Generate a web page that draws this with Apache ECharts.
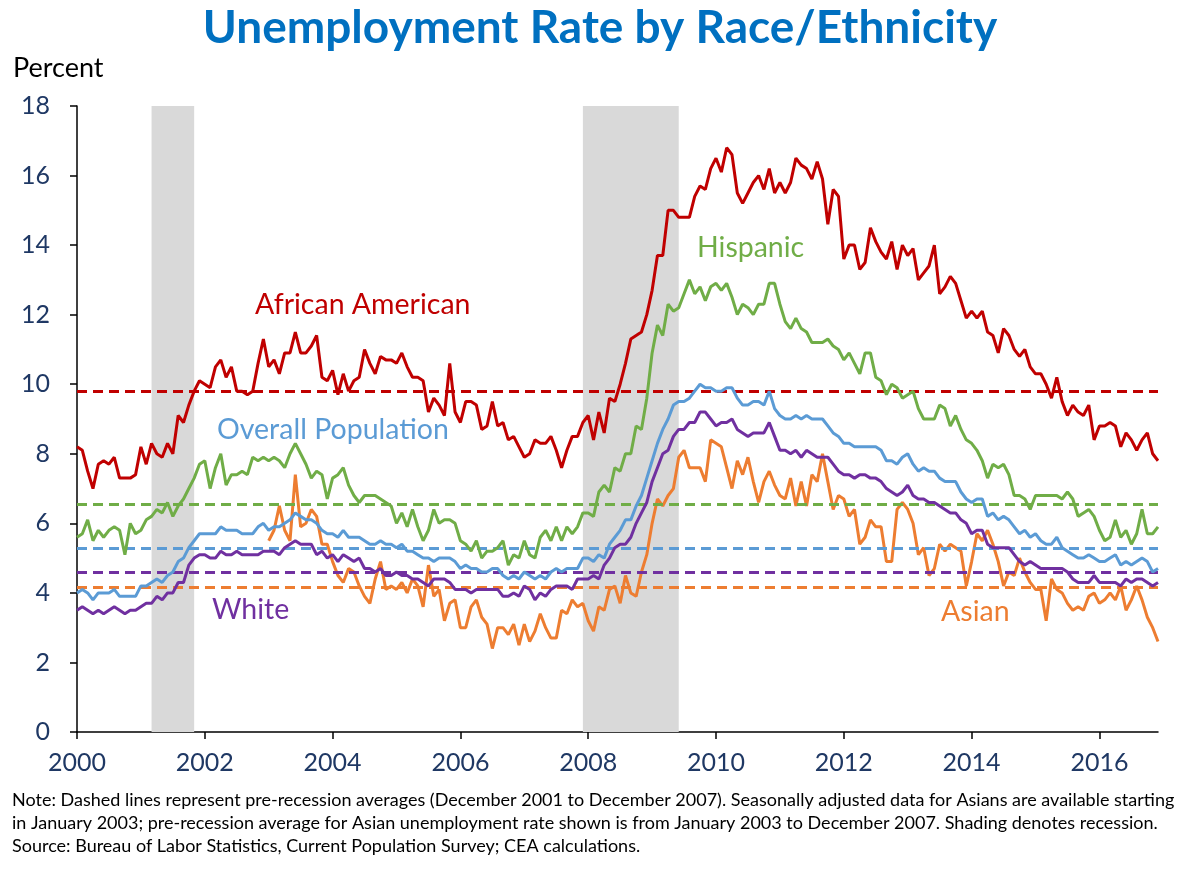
<!DOCTYPE html>
<html>
<head>
<meta charset="utf-8">
<title>Unemployment Rate by Race/Ethnicity</title>
<script src="https://cdn.jsdelivr.net/npm/echarts@6/dist/echarts.min.js"></script>
<style>
html, body { margin: 0; padding: 0; background: #fff; }
#chart { width: 1200px; height: 872px; }
</style>
</head>
<body>
<div id="chart"></div>
<script>
// monthly data, Jan 2000 - Dec 2016
var startYear = 2000, endYear = 2016;

var africanAmerican = [
    8.2, 8.1, 7.5, 7.0, 7.7, 7.8, 7.7, 7.9, 7.3, 7.3, 7.3, 7.4,
    8.2, 7.7, 8.3, 8.0, 7.9, 8.3, 8.0, 9.1, 8.9, 9.4, 9.8, 10.1,
    10.0, 9.9, 10.5, 10.7, 10.2, 10.5, 9.8, 9.8, 9.7, 9.8, 10.6, 11.3,
    10.5, 10.7, 10.3, 10.9, 10.9, 11.5, 10.9, 10.9, 11.1, 11.4, 10.2, 10.1,
    10.4, 9.7, 10.3, 9.8, 10.1, 10.2, 11.0, 10.6, 10.3, 10.8, 10.7, 10.7,
    10.6, 10.9, 10.5, 10.2, 10.2, 10.1, 9.2, 9.6, 9.4, 9.1, 10.6, 9.2,
    8.9, 9.5, 9.5, 9.4, 8.7, 8.8, 9.5, 8.8, 8.9, 8.4, 8.5, 8.2,
    7.9, 8.0, 8.4, 8.3, 8.3, 8.5, 8.1, 7.6, 8.1, 8.5, 8.5, 8.9,
    9.1, 8.4, 9.2, 8.6, 9.6, 9.5, 10.0, 10.6, 11.3, 11.4, 11.5, 12.0,
    12.7, 13.7, 13.7, 15.0, 15.0, 14.8, 14.8, 14.8, 15.4, 15.7, 15.6, 16.2,
    16.5, 16.1, 16.8, 16.6, 15.5, 15.2, 15.5, 15.8, 16.0, 15.6, 16.2, 15.5,
    15.8, 15.5, 15.8, 16.5, 16.3, 16.2, 15.9, 16.4, 15.9, 14.6, 15.6, 15.4,
    13.6, 14.0, 14.0, 13.3, 13.5, 14.5, 14.1, 13.8, 13.6, 14.1, 13.3, 14.0,
    13.7, 13.9, 13.0, 13.2, 13.4, 14.0, 12.6, 12.8, 13.1, 12.9, 12.4, 11.9,
    12.1, 11.9, 12.1, 11.5, 11.4, 10.9, 11.6, 11.4, 11.0, 10.8, 11.0, 10.5,
    10.3, 10.3, 10.0, 9.6, 10.2, 9.5, 9.1, 9.4, 9.2, 9.1, 9.4, 8.4,
    8.8, 8.8, 8.9, 8.8, 8.2, 8.6, 8.4, 8.1, 8.4, 8.6, 8.0, 7.8
];

var hispanic = [
    5.6, 5.7, 6.1, 5.5, 5.8, 5.6, 5.8, 5.9, 5.8, 5.1, 6.0, 5.7,
    5.8, 6.1, 6.2, 6.4, 6.3, 6.6, 6.2, 6.5, 6.7, 7.0, 7.3, 7.7,
    7.8, 7.0, 7.6, 8.0, 7.1, 7.4, 7.4, 7.5, 7.4, 7.9, 7.8, 7.9,
    7.8, 7.9, 7.8, 7.6, 8.0, 8.3, 8.0, 7.7, 7.3, 7.5, 7.4, 6.7,
    7.3, 7.4, 7.6, 7.1, 6.8, 6.6, 6.8, 6.8, 6.8, 6.7, 6.6, 6.5,
    6.0, 6.3, 5.9, 6.4, 5.9, 5.5, 5.8, 6.4, 6.0, 6.1, 6.1, 6.0,
    5.5, 5.4, 5.2, 5.5, 5.0, 5.2, 5.2, 5.3, 5.5, 4.8, 5.1, 5.0,
    5.5, 5.1, 5.0, 5.6, 5.8, 5.5, 5.9, 5.5, 5.9, 5.7, 5.9, 6.3,
    6.3, 6.2, 6.9, 7.1, 6.9, 7.6, 7.5, 8.0, 8.0, 8.8, 8.7, 9.6,
    10.9, 11.7, 11.4, 12.3, 12.1, 12.2, 12.6, 13.0, 12.6, 12.8, 12.4, 12.8,
    12.9, 12.7, 12.9, 12.5, 12.0, 12.3, 12.2, 12.0, 12.3, 12.3, 12.9, 12.9,
    12.3, 11.8, 11.6, 11.9, 11.6, 11.5, 11.2, 11.2, 11.2, 11.3, 11.1, 11.0,
    10.7, 10.9, 10.6, 10.3, 10.9, 10.9, 10.2, 10.1, 9.7, 10.0, 9.9, 9.6,
    9.7, 9.8, 9.3, 9.0, 9.0, 9.0, 9.4, 9.3, 8.8, 9.1, 8.7, 8.4,
    8.3, 8.1, 7.8, 7.3, 7.7, 7.6, 7.7, 7.4, 6.8, 6.8, 6.7, 6.4,
    6.8, 6.8, 6.8, 6.8, 6.8, 6.7, 6.9, 6.7, 6.2, 6.3, 6.4, 6.2,
    5.8, 5.5, 5.6, 6.1, 5.6, 5.8, 5.4, 5.7, 6.4, 5.7, 5.7, 5.9
];

var overall = [
    4.0, 4.1, 4.0, 3.8, 4.0, 4.0, 4.0, 4.1, 3.9, 3.9, 3.9, 3.9,
    4.2, 4.2, 4.3, 4.4, 4.3, 4.5, 4.6, 4.9, 5.0, 5.3, 5.5, 5.7,
    5.7, 5.7, 5.7, 5.9, 5.8, 5.8, 5.8, 5.7, 5.7, 5.7, 5.9, 6.0,
    5.8, 5.9, 5.9, 6.0, 6.1, 6.3, 6.2, 6.1, 6.1, 6.0, 5.8, 5.7,
    5.7, 5.6, 5.8, 5.6, 5.6, 5.6, 5.5, 5.4, 5.4, 5.5, 5.4, 5.4,
    5.3, 5.4, 5.2, 5.2, 5.1, 5.0, 5.0, 4.9, 5.0, 5.0, 5.0, 4.9,
    4.7, 4.8, 4.7, 4.7, 4.6, 4.6, 4.7, 4.7, 4.5, 4.4, 4.5, 4.4,
    4.6, 4.5, 4.4, 4.5, 4.4, 4.6, 4.7, 4.6, 4.7, 4.7, 4.7, 5.0,
    5.0, 4.9, 5.1, 5.0, 5.4, 5.6, 5.8, 6.1, 6.1, 6.5, 6.8, 7.3,
    7.8, 8.3, 8.7, 9.0, 9.4, 9.5, 9.5, 9.6, 9.8, 10.0, 9.9, 9.9,
    9.8, 9.8, 9.9, 9.9, 9.6, 9.4, 9.4, 9.5, 9.5, 9.4, 9.8, 9.3,
    9.1, 9.0, 9.0, 9.1, 9.0, 9.1, 9.0, 9.0, 9.0, 8.8, 8.6, 8.5,
    8.3, 8.3, 8.2, 8.2, 8.2, 8.2, 8.2, 8.1, 7.8, 7.8, 7.7, 7.9,
    8.0, 7.7, 7.5, 7.6, 7.5, 7.5, 7.3, 7.2, 7.2, 7.2, 6.9, 6.7,
    6.6, 6.7, 6.7, 6.2, 6.3, 6.1, 6.2, 6.1, 5.9, 5.7, 5.8, 5.6,
    5.7, 5.5, 5.4, 5.4, 5.6, 5.3, 5.2, 5.1, 5.0, 5.0, 5.1, 5.0,
    4.9, 4.9, 5.0, 5.1, 4.8, 4.9, 4.8, 4.9, 5.0, 4.9, 4.6, 4.7
];

var white = [
    3.5, 3.6, 3.5, 3.4, 3.5, 3.4, 3.5, 3.6, 3.5, 3.4, 3.5, 3.5,
    3.6, 3.7, 3.7, 3.9, 3.8, 4.0, 4.0, 4.3, 4.3, 4.8, 5.0, 5.1,
    5.1, 5.0, 5.0, 5.2, 5.1, 5.1, 5.2, 5.1, 5.1, 5.1, 5.1, 5.2,
    5.2, 5.2, 5.1, 5.3, 5.4, 5.5, 5.4, 5.4, 5.4, 5.1, 5.2, 5.0,
    5.1, 4.9, 5.1, 5.0, 4.9, 5.0, 4.7, 4.7, 4.6, 4.7, 4.5, 4.5,
    4.6, 4.5, 4.5, 4.4, 4.4, 4.3, 4.2, 4.4, 4.4, 4.4, 4.3, 4.1,
    4.1, 4.1, 4.0, 4.1, 4.1, 4.1, 4.1, 4.1, 3.9, 3.9, 4.0, 3.9,
    4.2, 4.1, 3.8, 4.0, 3.9, 4.1, 4.2, 4.2, 4.2, 4.1, 4.4, 4.4,
    4.4, 4.5, 4.4, 4.8, 5.0, 5.3, 5.4, 5.4, 5.6, 6.0, 6.3, 6.6,
    7.2, 7.6, 8.0, 8.1, 8.5, 8.7, 8.7, 8.9, 8.9, 9.2, 9.2, 9.0,
    8.8, 8.9, 8.9, 9.0, 8.7, 8.6, 8.5, 8.6, 8.6, 8.6, 8.9, 8.5,
    8.1, 8.1, 8.0, 8.1, 7.9, 8.1, 8.0, 7.9, 7.9, 7.9, 7.7, 7.5,
    7.4, 7.4, 7.3, 7.4, 7.4, 7.3, 7.3, 7.2, 7.0, 6.9, 6.8, 6.9,
    7.1, 6.8, 6.7, 6.7, 6.6, 6.6, 6.5, 6.4, 6.3, 6.3, 6.1, 6.0,
    5.7, 5.8, 5.8, 5.4, 5.3, 5.3, 5.3, 5.3, 5.1, 4.9, 4.8, 4.9,
    4.8, 4.7, 4.7, 4.7, 4.7, 4.7, 4.6, 4.4, 4.3, 4.3, 4.3, 4.5,
    4.3, 4.3, 4.3, 4.3, 4.2, 4.4, 4.3, 4.4, 4.4, 4.3, 4.2, 4.3
];

// Asian series starts January 2003
var asianStart = 2003;
var asian = [
    5.5, 5.8, 6.5, 5.8, 5.5, 7.4, 5.9, 6.0, 6.4, 6.2, 5.4, 5.4,
    4.9, 4.5, 4.3, 4.7, 4.6, 4.2, 3.9, 3.7, 4.4, 4.9, 4.1, 4.2,
    4.1, 4.3, 4.0, 4.4, 4.2, 3.6, 4.8, 3.9, 4.1, 3.2, 3.7, 3.8,
    3.0, 3.0, 3.6, 3.8, 3.3, 3.1, 2.4, 3.0, 3.0, 2.8, 3.1, 2.5,
    3.1, 2.6, 2.9, 3.4, 3.0, 2.7, 2.7, 3.5, 3.4, 3.8, 3.6, 3.7,
    3.2, 2.9, 3.6, 3.5, 4.1, 4.2, 3.7, 4.5, 4.0, 3.9, 4.6, 5.1,
    6.0, 6.7, 6.5, 6.8, 7.0, 7.9, 8.1, 7.6, 7.6, 7.6, 7.2, 8.4,
    8.3, 8.2, 7.6, 7.0, 7.8, 7.4, 7.9, 7.2, 6.6, 7.2, 7.5, 7.1,
    6.8, 6.7, 7.3, 6.5, 7.2, 6.5, 7.4, 7.2, 8.0, 7.2, 6.4, 6.8,
    6.7, 6.2, 6.4, 5.4, 5.6, 6.1, 5.9, 5.9, 4.9, 4.9, 6.4, 6.6,
    6.4, 6.0, 5.1, 5.3, 4.5, 4.7, 5.4, 5.2, 5.4, 5.3, 5.2, 4.2,
    4.9, 5.7, 5.5, 5.8, 5.4, 4.9, 4.2, 4.6, 4.5, 5.0, 4.6, 4.3,
    4.1, 4.1, 3.2, 4.4, 4.1, 4.0, 3.7, 3.5, 3.6, 3.5, 3.9, 4.0,
    3.7, 3.8, 4.0, 3.8, 4.2, 3.5, 3.8, 4.2, 3.8, 3.3, 3.0, 2.6
];

// pre-recession averages (dashed lines)
var seriesNames = ['African American', 'Hispanic', 'Overall Population', 'White', 'Asian'];
var averages = [9.8, 6.55, 5.27, 4.6, 4.15];
var colors = ['#C00000', '#70AD47', '#5B9BD5', '#7030A0', '#ED7D31'];

// recessions (first and last month)
var recessions = [['2001-03', '2001-11'], ['2007-12', '2009-06']];

var yTicks = { min: 0, max: 18, interval: 2 };

var months = [];
for (var y = startYear; y <= endYear; y++) {
    for (var m = 1; m <= 12; m++) {
        months.push(y + '-' + (m < 10 ? '0' + m : m));
    }
}

var asianFull = [];
var pad = (asianStart - startYear) * 12;
for (var i = 0; i < pad; i++) asianFull.push(null);
asianFull = asianFull.concat(asian);

var seriesData = [africanAmerican, hispanic, overall, white, asianFull];

var fontFamily = 'Lato, "Open Sans", sans-serif';

var myChart = echarts.init(document.getElementById('chart'));

var series = [{
    name: 'recession',
    type: 'line',
    data: [],
    z: 1,
    silent: true,
    markArea: {
        silent: true,
        itemStyle: { color: '#D9D9D9' },
        data: recessions.map(function (r) {
            return [{ xAxis: r[0] }, { xAxis: r[1] }];
        })
    }
}];

seriesData.forEach(function (d, i) {
    series.push({
        name: seriesNames[i],
        type: 'line',
        data: d,
        z: 3 + (seriesData.length - i),
        showSymbol: false,
        symbol: 'none',
        connectNulls: false,
        lineStyle: { color: colors[i], width: 3 },
        itemStyle: { color: colors[i] },
        markLine: {
            silent: true,
            symbol: 'none',
            label: { show: false },
            lineStyle: { color: colors[i], width: 2.8, type: [10, 6] },
            data: [{ yAxis: averages[i] }]
        }
    });
});

// series label positions (left edge, vertical centre)
var labelPos = [
    { x: 255, y: 305 },
    { x: 697, y: 248 },
    { x: 217, y: 430 },
    { x: 212, y: 610 },
    { x: 941, y: 612 }
];

var graphics = labelPos.map(function (p, i) {
    return {
        type: 'text',
        left: p.x,
        top: p.y - 15,
        z: 20,
        style: {
            text: seriesNames[i],
            fill: colors[i],
            font: '28.5px ' + fontFamily
        }
    };
});

graphics.push({
    type: 'text',
    left: 13,
    top: 55,
    style: { text: 'Percent', fill: '#000', font: '27px ' + fontFamily }
});

graphics.push({
    type: 'text',
    left: 12,
    top: 789,
    style: {
        text: 'Note: Dashed lines represent pre-recession averages (December 2001 to December 2007). Seasonally adjusted data for Asians are available starting\n' +
              'in January 2003; pre-recession average for Asian unemployment rate shown is from January 2003 to December 2007. Shading denotes recession.\n' +
              'Source: Bureau of Labor Statistics, Current Population Survey; CEA calculations.',
        fill: '#000',
        font: '18px ' + fontFamily,
        lineHeight: 23
    }
});

var option = {
    animation: false,
    backgroundColor: '#fff',
    title: {
        text: 'Unemployment Rate by Race/Ethnicity',
        left: 'center',
        top: 0,
        textStyle: {
            color: '#0070C0',
            fontSize: 46,
            fontWeight: 'bold',
            fontFamily: fontFamily
        }
    },
    grid: {
        left: 77,
        right: 42,
        top: 106,
        bottom: 140
    },
    xAxis: {
        type: 'category',
        data: months,
        boundaryGap: false,
        axisLine: { lineStyle: { color: '#000', width: 1.5 } },
        axisTick: {
            show: true,
            length: 7,
            lineStyle: { color: '#000', width: 1.5 },
            interval: function (index) { return index % 24 === 0; }
        },
        axisLabel: {
            interval: function (index) { return index % 24 === 0; },
            formatter: function (v) { return v.slice(0, 4); },
            color: '#1F3864',
            fontSize: 25,
            fontFamily: fontFamily,
            margin: 18
        },
        splitLine: { show: false }
    },
    yAxis: {
        type: 'value',
        min: yTicks.min,
        max: yTicks.max,
        interval: yTicks.interval,
        axisLine: { show: true, lineStyle: { color: '#000', width: 1.5 } },
        axisTick: { show: true, length: 7, lineStyle: { color: '#000', width: 1.5 } },
        axisLabel: {
            color: '#1F3864',
            fontSize: 25,
            fontFamily: fontFamily,
            margin: 27
        },
        splitLine: { show: false }
    },
    graphic: graphics,
    series: series
};

myChart.setOption(option);
</script>
</body>
</html>
